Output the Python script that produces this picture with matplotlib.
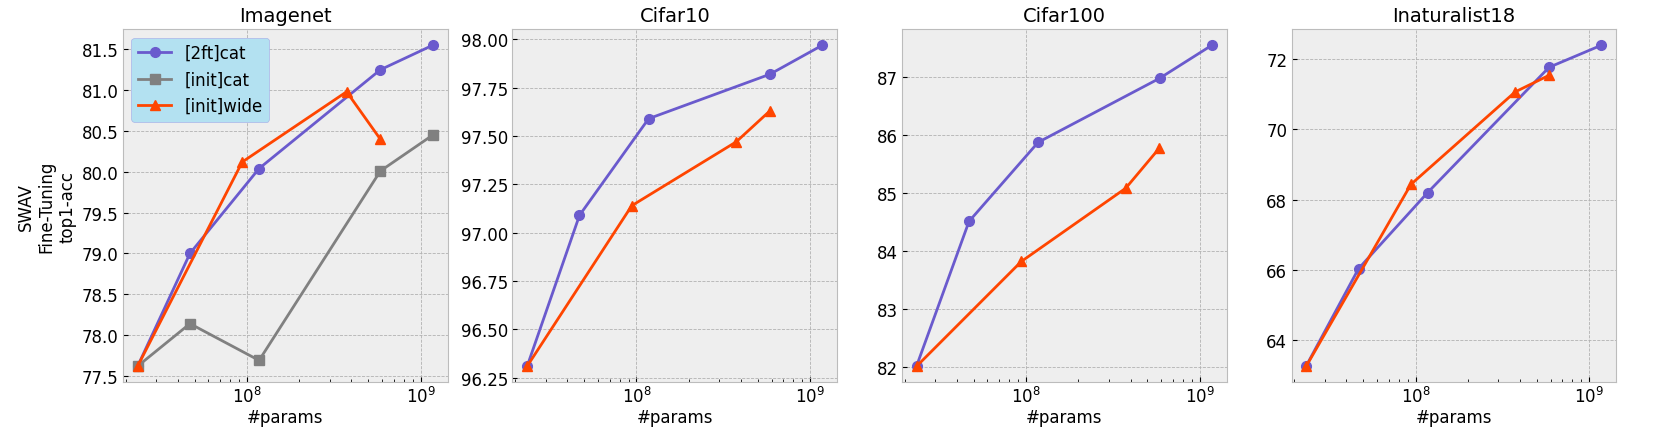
import matplotlib
matplotlib.use("Agg")
import matplotlib.pyplot as plt

plt.style.use("bmh")
plt.rcParams.update({'font.size': 12})

titles = ["Imagenet", "Cifar10", "Cifar100", "Inaturalist18"]

# parameter counts
cat_params = [23.5e6, 47e6, 117.5e6, 587e6, 1175e6]
wide_params = [23.5e6, 94e6, 375e6, 586e6]

# [2ft]cat per dataset
ft_cat = [
    [77.62, 79.00, 80.04, 81.25, 81.55],
    [96.31, 97.09, 97.59, 97.82, 97.97],
    [82.03, 84.51, 85.87, 86.97, 87.54],
    [63.26, 66.03, 68.20, 71.77, 72.40],
]
# [init]cat, only imagenet
init_cat = [77.62, 78.14, 77.69, 80.01, 80.45]
# [init]wide per dataset
init_wide = [
    [77.62, 80.12, 80.98, 80.40],
    [96.31, 97.14, 97.47, 97.63],
    [82.02, 83.82, 85.08, 85.77],
    [63.25, 68.43, 71.07, 71.54],
]

fig, axes = plt.subplots(1, 4, figsize=(16.61, 4.31), dpi=100)
fig.subplots_adjust(left=0.074, right=0.973, top=0.93, bottom=0.111, wspace=0.2)

for i, ax in enumerate(axes):
    ax.plot(cat_params, ft_cat[i], marker='o', color='slateblue', lw=2,
            markersize=7, label='[2ft]cat')
    if i == 0:
        ax.plot(cat_params, init_cat, marker='s', color='gray', lw=2,
                markersize=7, label='[init]cat')
    ax.plot(wide_params, init_wide[i], marker='^', color='orangered', lw=2,
            markersize=7, label='[init]wide')
    ax.set_xscale('log')
    ax.set_title(titles[i], fontsize=14)
    ax.set_xlabel('#params', fontsize=12, labelpad=1)
    ax.tick_params(direction='in', labelsize=12, pad=3)
    ax.tick_params(which='minor', direction='in')
    ax.set_facecolor('#eeeeee')
    ax.grid(True, which='major', linestyle='--', linewidth=0.6, color='#b2b2b2')

axes[0].set_ylabel('SWAV\nFine-Tuning\ntop1-acc', fontsize=12)
axes[0].set_yticks([77.5, 78.0, 78.5, 79.0, 79.5, 80.0, 80.5, 81.0, 81.5])
axes[1].set_yticks([96.25, 96.5, 96.75, 97.0, 97.25, 97.5, 97.75, 98.0])
axes[1].yaxis.set_major_formatter(matplotlib.ticker.FormatStrFormatter('%.2f'))
axes[0].yaxis.set_major_formatter(matplotlib.ticker.FormatStrFormatter('%.1f'))

leg = axes[0].legend(loc='upper left', fontsize=12, frameon=True,
                     facecolor='#b3e1f1', edgecolor='#a8b4e8', framealpha=1)

fig.savefig('out.png', dpi=100)
